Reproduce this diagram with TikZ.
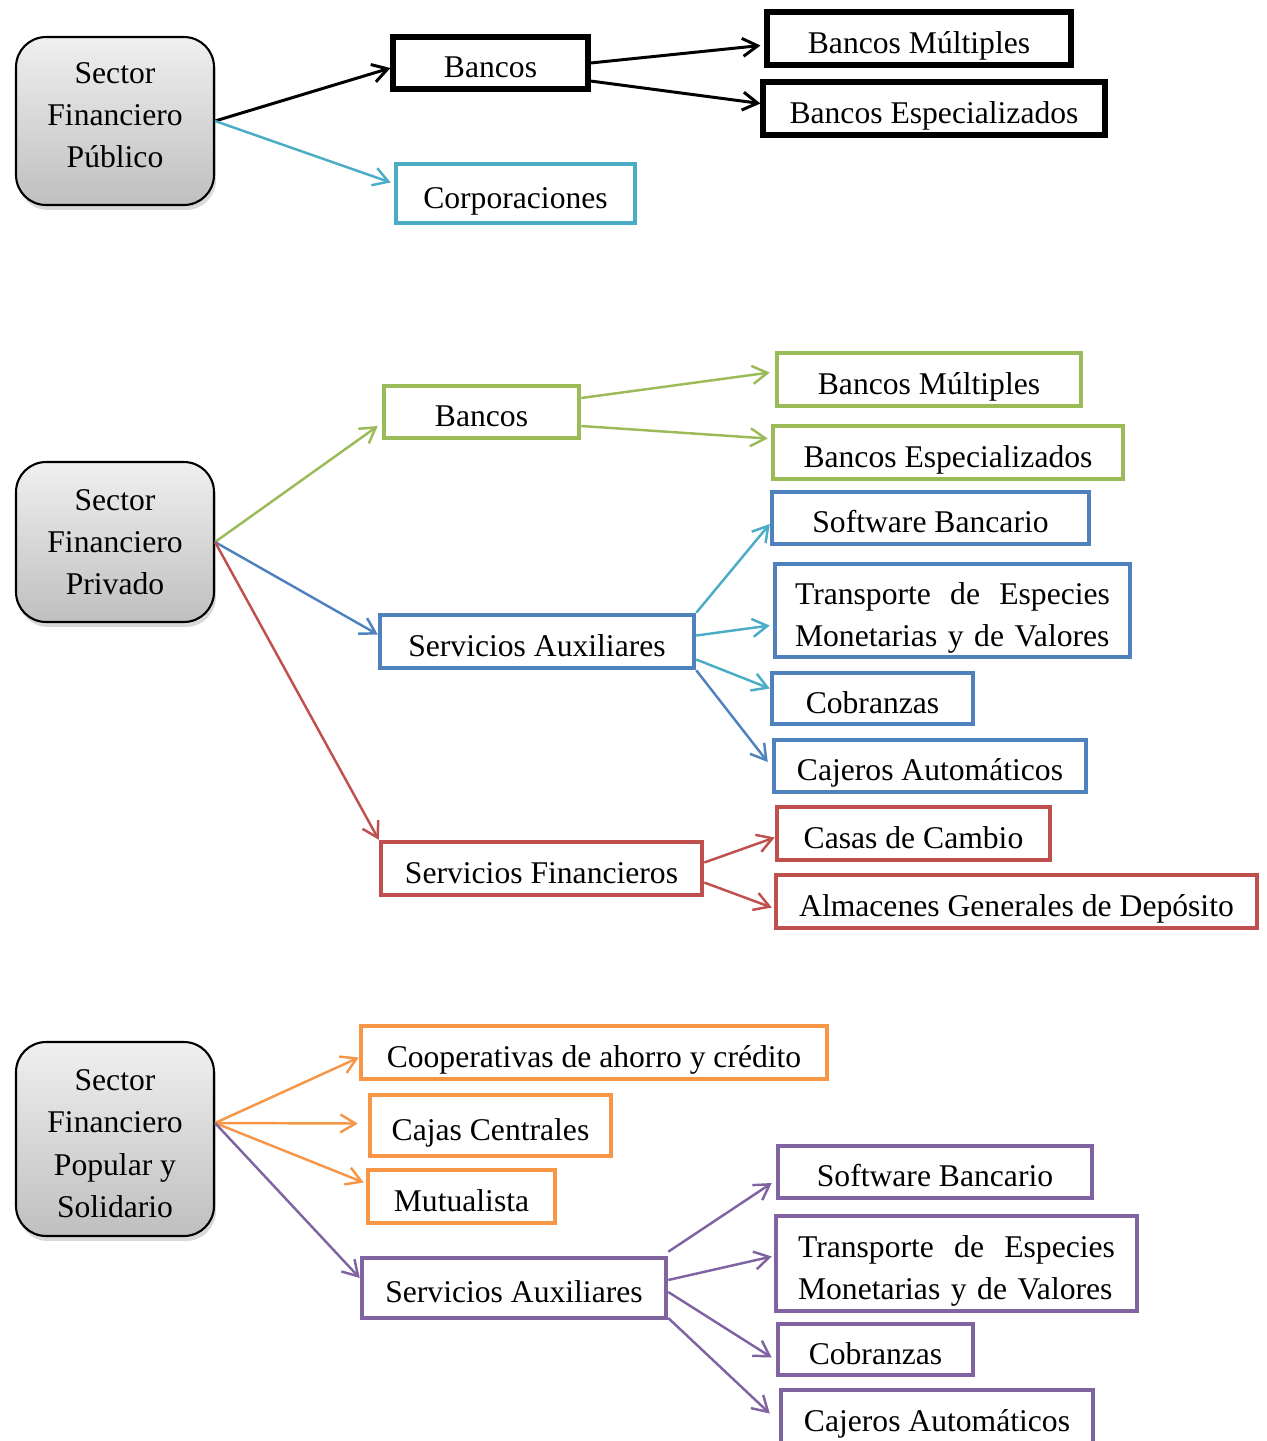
\documentclass[tikz,border=0pt]{standalone}
\usepackage{fontspec}
\setmainfont{Liberation Serif}
\usetikzlibrary{
    positioning,
    arrows.meta,
    calc,
    shadows
}
\definecolor{sectCyan}{RGB}{75, 172, 198}
\definecolor{sectBlue}{RGB}{79, 129, 189}
\definecolor{sectGreen}{RGB}{155, 187, 89}
\definecolor{sectRed}{RGB}{192, 80, 77}
\definecolor{sectOrange}{RGB}{247, 150, 70}
\definecolor{sectPurple}{RGB}{128, 100, 162}

\begin{document}
\begin{tikzpicture}[x=0.02cm, y=-0.02cm,
    >={Straight Barb[length=3mm, width=3.6mm]},
    font=\fontsize{18}{24}\selectfont,
    sector/.style={draw=black, line width=1.2pt, rounded corners=0.6cm,
        top color=gray!12, bottom color=gray!50, align=center,
        drop shadow={opacity=0.3, shadow xshift=0.04cm, shadow yshift=-0.1cm}},
    tbox/.style={draw=#1, line width=2.6pt, inner sep=0pt},
    box/.style={tbox=#1, text height=0.75cm, text depth=0.16cm},
    twoline/.style={text height=0.5cm, text depth=0.73cm, align=left},
    dims/.style 2 args={minimum width=#1cm, minimum height=#2cm},
    conn/.style={->, line width=1.4pt, draw=#1}
]
    \useasboundingbox (0,0) rectangle (1267,1441);

    % Sector publico
    \node[sector, dims={3.96}{3.36}, text height=2.0cm, text depth=0.12cm] (pub) at (115,121)
        {Sector\\Financiero\\Público};
    \node[box=black, line width=2.9pt, dims={3.9}{1.04}] (bancosA) at (490.5,63) {Bancos};
    \node[box=sectCyan, dims={4.78}{1.18}] (corp) at (515.5,193.5) {Corporaciones};
    \node[box=black, line width=2.9pt, dims={6.08}{1.06}] (multA) at (919,38.5) {Bancos Múltiples};
    \node[box=black, line width=2.9pt, dims={6.84}{1.06}] (espA) at (934,108.5) {Bancos Especializados};

    \draw[conn=black, line width=1.7pt] (pub.east) -- ($(bancosA.west)+(0,5)$);
    \draw[conn=sectCyan] (pub.east) -- ($(corp.west)+(-3,-11)$);
    \draw[conn=black, line width=1.7pt] (bancosA.east) -- ($(multA.west)+(-4,7)$);
    \draw[conn=black, line width=1.7pt] ($(bancosA.east)+(0,18)$) -- ($(espA.west)+(0,-5)$);

    % Sector privado
    \node[sector, dims={3.96}{3.2}] (priv) at (115,542) {Sector\\Financiero\\Privado};
    \node[box=sectGreen, dims={3.9}{1.04}] (bancosB) at (481.5,412) {Bancos};
    \node[box=sectGreen, dims={6.08}{1.06}] (multB) at (929,379.5) {Bancos Múltiples};
    \node[box=sectGreen, dims={7.0}{1.06}] (espB) at (948,452.5) {Bancos Especializados};
    \node[box=sectBlue, dims={6.34}{1.04}] (softB) at (930.5,518) {Software Bancario};
    \node[tbox=sectBlue, dims={7.1}{1.86}, text width=6.3cm, twoline] (transB) at (952.5,610.5)
        {Transporte\hfill de\hfill Especies\\\mbox{Monetarias y de Valores}};
    \node[box=sectBlue, dims={4.02}{1.02}] (cobrB) at (872.5,698.5) {Cobranzas};
    \node[box=sectBlue, dims={6.24}{1.04}] (cajB) at (930,766) {Cajeros Automáticos};
    \node[box=sectBlue, dims={6.28}{1.06}] (auxB) at (537,641.5) {Servicios Auxiliares};
    \node[box=sectRed, dims={5.46}{1.06}] (casas) at (913.5,833.5) {Casas de Cambio};
    \node[box=sectRed, dims={9.62}{1.06}] (alm) at (1016.5,901.5) {Almacenes Generales de Depósito};
    \node[box=sectRed, dims={6.42}{1.06}] (finB) at (541.5,868.5) {Servicios Financieros};

    \draw[conn=sectGreen] (priv.east) -- ($(bancosB.west)+(-4,14)$);
    \draw[conn=sectBlue] (priv.east) -- ($(auxB.west)+(0,-7)$);
    \draw[conn=sectRed] (priv.east) -- (finB.north west);
    \draw[conn=sectGreen] ($(bancosB.east)+(0,-14)$) -- ($(multB.west)+(-5,-7)$);
    \draw[conn=sectGreen] ($(bancosB.east)+(0,14)$) -- ($(espB.west)+(-3,-14)$);
    \draw[conn=sectCyan] (auxB.north east) -- ($(softB.west)+(0,6)$);
    \draw[conn=sectCyan] ($(auxB.east)+(0,-6)$) -- ($(transB.west)+(-3,15)$);
    \draw[conn=sectCyan] ($(auxB.east)+(0,18)$) -- ($(cobrB.west)+(0,-10)$);
    \draw[conn=sectBlue] (auxB.south east) -- ($(cajB.west)+(-4,-4)$);
    \draw[conn=sectRed] ($(finB.east)+(0,-6)$) -- ($(casas.west)+(0,4)$);
    \draw[conn=sectRed] ($(finB.east)+(0,14)$) -- ($(alm.west)+(-2,6)$);

    % Sector popular y solidario
    \node[sector, dims={3.96}{3.88}, text height=3.2cm, text depth=0.07cm] (pop) at (115,1139)
        {Sector\\Financiero\\Popular y\\Solidario};
    \coordinate (popOut) at ($(pop.east)+(0,-16)$);
    \node[box=sectOrange, dims={9.32}{1.06}] (coop) at (594,1052.5) {Cooperativas de ahorro y crédito};
    \node[box=sectOrange, dims={4.82}{1.22}] (cajas) at (490.5,1125.5) {Cajas Centrales};
    \node[box=sectOrange, dims={3.74}{1.06}] (mutu) at (461.5,1196.5) {Mutualista};
    \node[box=sectPurple, dims={6.08}{1.2}] (auxC) at (514,1288) {Servicios Auxiliares};
    \node[box=sectPurple, dims={6.28}{1.04}] (softC) at (935,1172) {Software Bancario};
    \node[tbox=sectPurple, dims={7.22}{1.9}, text width=6.34cm, twoline] (transC) at (956.5,1263.5)
        {Transporte\hfill de\hfill Especies\\\mbox{Monetarias y de Valores}};
    \node[box=sectPurple, dims={3.9}{1.02}] (cobrC) at (875.5,1349.5) {Cobranzas};
    \node[box=sectPurple, dims={6.24}{1.06}] (cajC) at (937,1416.5) {Cajeros Automáticos};

    \draw[conn=sectOrange] (popOut) -- ($(coop.west)+(0,5)$);
    \draw[conn=sectOrange] (popOut) -- ($(cajas.west)+(-10,-2)$);
    \draw[conn=sectOrange] (popOut) -- ($(mutu.west)+(-2,-14)$);
    \draw[conn=sectPurple] (popOut) -- ($(auxC.west)+(0,-10)$);
    \draw[conn=sectPurple] ($(auxC.north east)+(0,-4)$) -- ($(softC.west)+(-4,11)$);
    \draw[conn=sectPurple] ($(auxC.east)+(0,-8)$) -- ($(transC.west)+(-2,-7)$);
    \draw[conn=sectPurple] ($(auxC.east)+(0,4)$) -- ($(cobrC.west)+(-4,8)$);
    \draw[conn=sectPurple] ($(auxC.east)+(0,30)$) -- ($(cajC.west)+(-9,-3)$);
\end{tikzpicture}
\end{document}
